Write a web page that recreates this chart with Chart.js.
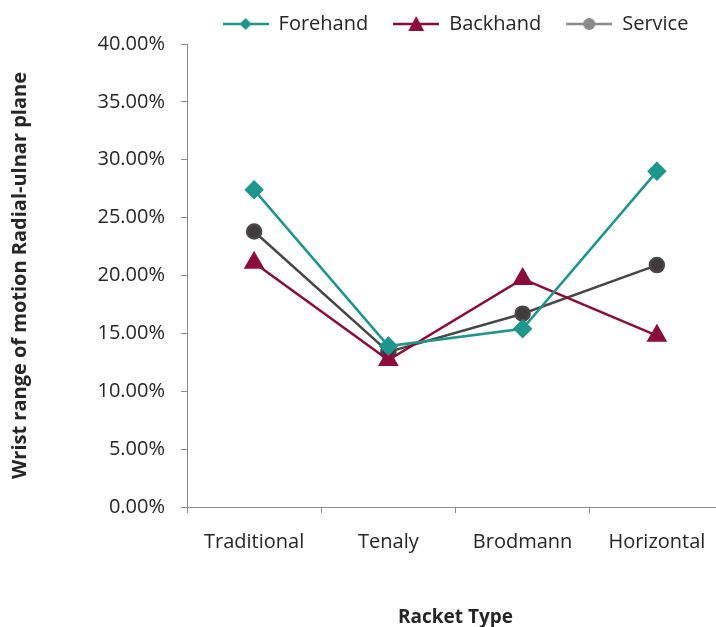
<!DOCTYPE html>
<html>
<head>
<meta charset="utf-8">
<script src="https://cdn.jsdelivr.net/npm/chart.js@4/dist/chart.umd.min.js"></script>
<style>
  html, body { margin: 0; padding: 0; background: #fff; }
  #wrap { width: 716px; height: 627px; overflow: hidden; }
</style>
</head>
<body>
<div id="wrap"><canvas id="wristChart" width="736" height="627"></canvas></div>
<script>
// racket types and wrist range of motion (%) per stroke
const rackets = ['Traditional', 'Tenaly', 'Brodmann', 'Horizontal'];
const forehand = [27.4, 13.9, 15.4, 29.0];
const backhand = [21.1, 12.7, 19.7, 14.8];
const service = [23.8, 13.4, 16.7, 20.9];
const yTicks = [0, 5, 10, 15, 20, 25, 30, 35, 40];

const FONT = '"Open Sans", sans-serif';

// legend swatch: short line with the marker in the middle
function swatch(color, shape) {
  const c = document.createElement('canvas');
  c.width = 46; c.height = 20;
  const g = c.getContext('2d');
  g.strokeStyle = color; g.fillStyle = color; g.lineWidth = 2.5;
  g.beginPath(); g.moveTo(0, 10); g.lineTo(46, 10); g.stroke();
  g.beginPath();
  if (shape === 'diamond') {
    g.moveTo(23, 4); g.lineTo(29, 10); g.lineTo(23, 16); g.lineTo(17, 10);
  } else if (shape === 'triangle') {
    g.moveTo(23, 2); g.lineTo(31, 17); g.lineTo(15, 17);
  } else {
    g.arc(23, 10, 6, 0, Math.PI * 2);
  }
  g.closePath(); g.fill();
  return c;
}

const legendIcons = [
  swatch('#1d968c', 'diamond'),
  swatch('#8c0c3c', 'triangle'),
  swatch('#8a8a8a', 'circle')
];

const ctx = document.getElementById('wristChart').getContext('2d');
const wristChart = new Chart(ctx, {
  type: 'line',
  data: {
    labels: rackets,
    datasets: [{
      label: 'Forehand',
      data: forehand,
      borderColor: '#1d968c',
      backgroundColor: '#1d968c',
      borderWidth: 2.5,
      pointStyle: 'rectRot',
      pointRadius: 8,
      pointHoverRadius: 8
    }, {
      label: 'Backhand',
      data: backhand,
      borderColor: '#8c0c3c',
      backgroundColor: '#8c0c3c',
      borderWidth: 2.5,
      pointStyle: 'triangle',
      pointRadius: 9.5,
      pointHoverRadius: 9.5
    }, {
      label: 'Service',
      data: service,
      borderColor: '#4a4546',
      backgroundColor: '#3f3a3b',
      borderWidth: 2.5,
      pointStyle: 'circle',
      pointRadius: 7,
      pointHoverRadius: 7
    }]
  },
  options: {
    responsive: false,
    animation: false,
    layout: { padding: { top: -11, right: 0, left: 0, bottom: 0 } },
    plugins: {
      tooltip: { enabled: false },
      legend: {
        position: 'top',
        fullSize: false,
        labels: {
          usePointStyle: true,
          pointStyleWidth: 46,
          boxHeight: 18,
          padding: 25,
          color: '#262626',
          font: { family: FONT, size: 20 },
          generateLabels: function (chart) {
            return chart.data.datasets.map(function (ds, i) {
              return {
                text: ds.label,
                pointStyle: legendIcons[i],
                fillStyle: ds.backgroundColor,
                strokeStyle: ds.borderColor,
                lineWidth: 0,
                fontColor: '#262626',
                datasetIndex: i
              };
            });
          }
        }
      }
    },
    scales: {
      x: {
        offset: true,
        afterFit: function (scale) { scale.height = 120; },
        border: { color: '#8c8c8c', width: 1 },
        grid: {
          offset: true,
          drawOnChartArea: false,
          drawTicks: true,
          tickLength: 6,
          color: '#8c8c8c'
        },
        ticks: {
          color: '#262626',
          padding: 17,
          font: { family: FONT, size: 20 }
        },
        title: {
          display: true,
          text: 'Racket Type',
          color: '#262626',
          padding: { top: 0, bottom: 0 },
          font: { family: FONT, size: 19, weight: 'bold', lineHeight: 1.0 }
        }
      },
      y: {
        min: 0,
        max: 40,
        afterFit: function (scale) { scale.width = 187; },
        afterBuildTicks: function (scale) {
          scale.ticks = yTicks.map(function (v) { return { value: v }; });
        },
        border: { color: '#8c8c8c', width: 1 },
        grid: {
          drawOnChartArea: false,
          drawTicks: true,
          tickLength: 6,
          color: '#8c8c8c'
        },
        ticks: {
          color: '#262626',
          padding: 16,
          font: { family: FONT, size: 20 },
          callback: function (v) { return v.toFixed(2) + '%'; }
        },
        title: {
          display: true,
          text: 'Wrist range of motion Radial-ulnar plane',
          color: '#262626',
          padding: { top: 8, bottom: 0 },
          font: { family: FONT, size: 20, weight: 'bold' }
        }
      }
    }
  }
});
</script>
</body>
</html>
